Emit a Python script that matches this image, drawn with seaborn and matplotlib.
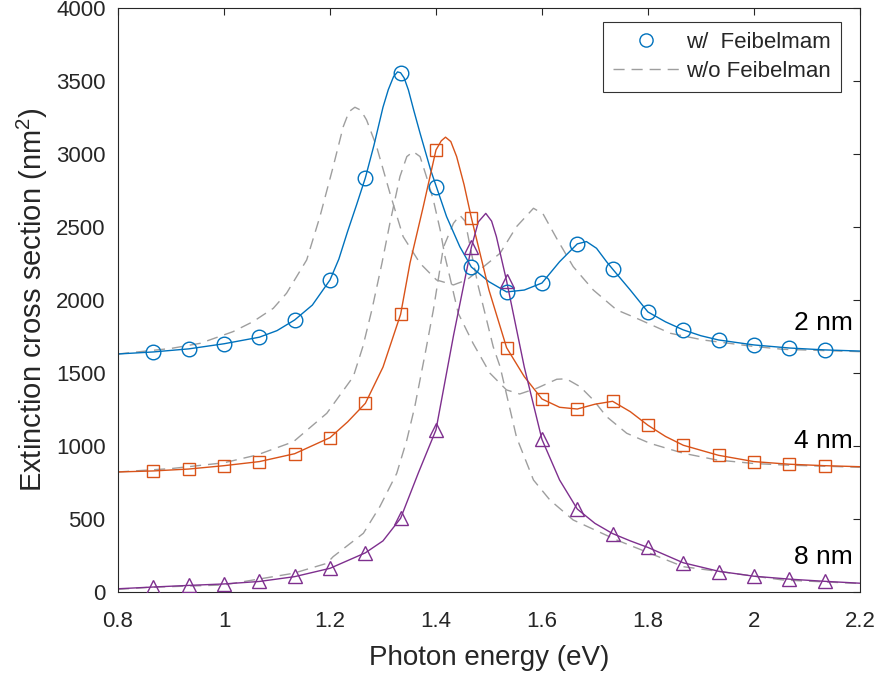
import numpy as np
import pandas as pd
import matplotlib
matplotlib.use('Agg')
import matplotlib.pyplot as plt
import seaborn as sns
from matplotlib.lines import Line2D

# marker positions (photon energy, eV)
x_mk = [0.8667, 0.9333, 1.0, 1.0667, 1.1333, 1.2, 1.2667, 1.3333, 1.4, 1.4667,
        1.5333, 1.6, 1.6667, 1.7333, 1.8, 1.8667, 1.9333, 2.0, 2.0667, 2.1333]
mk_2nm = [1644, 1665, 1700, 1745, 1863, 2137, 2836, 3555, 2774, 2226,
          2055, 2116, 2384, 2212, 1918, 1795, 1726, 1692, 1671, 1658]
mk_4nm = [829, 842, 865, 893, 947, 1057, 1292, 1902, 3027, 2564,
          1673, 1322, 1253, 1308, 1142, 1005, 936, 893, 875, 865]
mk_8nm = [36, 50, 57, 75, 107, 165, 270, 505, 1110, 2360,
          2130, 1045, 565, 400, 305, 200, 140, 108, 88, 72]

# w/ Feibelman, smooth curves
x_w2 = [0.80, 0.8667, 0.9333, 1.0, 1.0667, 1.10, 1.1333, 1.1667, 1.20, 1.2167, 1.2333,
        1.25, 1.2667, 1.283, 1.30, 1.31, 1.32, 1.3275, 1.3333, 1.34, 1.348, 1.358, 1.37,
        1.39, 1.42, 1.445, 1.4667, 1.50, 1.5333, 1.5667, 1.60, 1.6333, 1.6667, 1.684,
        1.703, 1.722, 1.7333, 1.7667, 1.80, 1.8333, 1.8667, 1.90, 1.9333, 2.0, 2.0667,
        2.1333, 2.20]
y_w2 = [1630, 1644, 1665, 1700, 1745, 1790, 1863, 1965, 2137, 2280, 2470,
        2650, 2836, 3060, 3320, 3440, 3530, 3562, 3556, 3520, 3438, 3300, 3142,
        2890, 2571, 2365, 2226, 2125, 2055, 2068, 2116, 2262, 2384, 2400,
        2354, 2262, 2212, 2068, 1918, 1850, 1795, 1755, 1726, 1692, 1671,
        1658, 1650]

x_w4 = [0.80, 0.8667, 0.9333, 1.0, 1.0667, 1.1333, 1.20, 1.2333, 1.2667, 1.30, 1.3333,
        1.351, 1.376, 1.40, 1.41, 1.418, 1.428, 1.439, 1.453, 1.4667, 1.50, 1.5333,
        1.5667, 1.60, 1.6333, 1.6667, 1.70, 1.7333, 1.7667, 1.80, 1.8333, 1.8667,
        1.9333, 2.0, 2.0667, 2.1333, 2.20]
y_w4 = [822, 829, 842, 865, 893, 947, 1057, 1165, 1292, 1540, 1902,
        2253, 2639, 3027, 3090, 3115, 3085, 2982, 2790, 2564, 2068, 1673,
        1475, 1322, 1265, 1253, 1286, 1306, 1235, 1142, 1065, 1005,
        936, 893, 875, 865, 858]

x_w8 = [0.80, 0.8667, 0.9333, 1.0, 1.0667, 1.1333, 1.20, 1.2667, 1.30, 1.3333, 1.3667,
        1.40, 1.4333, 1.4667, 1.48, 1.494, 1.505, 1.514, 1.5333, 1.5667, 1.60, 1.6333,
        1.6667, 1.70, 1.7333, 1.7667, 1.80, 1.8667, 1.9333, 2.0, 2.0667, 2.1333, 2.20]
y_w8 = [22, 34, 45, 55, 72, 105, 162, 268, 350, 505, 815,
        1110, 1760, 2360, 2535, 2593, 2540, 2434, 2130, 1540, 1045, 767,
        568, 470, 400, 350, 305, 200, 142, 108, 88, 73, 60]

# w/o Feibelman (dashed)
x_o2 = [0.80, 0.90, 0.955, 1.017, 1.055, 1.093, 1.118, 1.156, 1.181, 1.206, 1.225, 1.236,
        1.247, 1.258, 1.269, 1.288, 1.313, 1.338, 1.37, 1.401, 1.433, 1.458, 1.49, 1.521,
        1.552, 1.584, 1.602, 1.628, 1.659, 1.697, 1.741, 1.779, 1.842, 1.904, 1.992,
        2.055, 2.20]
y_o2 = [1630, 1668, 1703, 1783, 1852, 1943, 2046, 2274, 2571, 2913, 3187, 3290,
        3320, 3300, 3233, 3050, 2733, 2434, 2251, 2137, 2103, 2137, 2228, 2320,
        2502, 2628, 2590, 2420, 2228, 2068, 1932, 1874, 1772, 1726, 1685,
        1662, 1646]

x_o4 = [0.80, 0.90, 1.0, 1.062, 1.131, 1.194, 1.244, 1.262, 1.279, 1.298, 1.313, 1.332,
        1.345, 1.357, 1.37, 1.382, 1.395, 1.408, 1.417, 1.426, 1.442, 1.47, 1.502, 1.533,
        1.558, 1.59, 1.628, 1.646, 1.672, 1.697, 1.722, 1.76, 1.804, 1.867, 1.93, 2.0,
        2.055, 2.20]
y_o4 = [822, 845, 885, 938, 1029, 1224, 1475, 1680, 1932, 2251, 2525, 2845,
        2982, 3016, 2982, 2845, 2685, 2479, 2297, 2160, 1909, 1703, 1498, 1384,
        1356, 1395, 1457, 1460, 1406, 1315, 1201, 1087, 1018, 950, 904, 880,
        870, 854]

x_o8 = [0.80, 0.86, 0.999, 1.131, 1.194, 1.206, 1.263, 1.294, 1.326, 1.345, 1.36, 1.38,
        1.395, 1.414, 1.433, 1.445, 1.455, 1.467, 1.48, 1.489, 1.508, 1.521, 1.552,
        1.584, 1.615, 1.659, 1.741, 1.867, 2.055, 2.20]
y_o8 = [18, 32, 48, 128, 196, 242, 402, 584, 813, 1041, 1269, 1640,
        1930, 2360, 2525, 2580, 2540, 2320, 2091, 1960, 1680, 1543, 1060,
        767, 630, 493, 356, 173, 82, 58]

size_labels = ['2 nm', '4 nm', '8 nm']
label_y = [1842, 1034, 240]

blue = '#0072BD'
orange = '#D95319'
purple = '#7E2F8E'
gray = '#9E9E9E'
dark = '#262626'

sns.set_theme(style='white')
plt.rcParams['font.family'] = ['Liberation Sans', 'DejaVu Sans']
plt.rcParams['mathtext.fontset'] = 'custom'
plt.rcParams['mathtext.rm'] = 'Liberation Sans'
plt.rcParams['mathtext.default'] = 'regular'

fig = plt.figure(figsize=(8.81, 6.74), dpi=100)
ax = fig.add_axes([0.134, 0.1217, 0.842, 0.8665])

# dashed curves
for xs, ys in [(x_o2, y_o2), (x_o4, y_o4), (x_o8, y_o8)]:
    sns.lineplot(x=xs, y=ys, ax=ax, color=gray, lw=1.0, estimator=None,
                 zorder=1).lines[-1].set_dashes((8, 5))

# smooth curves with Feibelman
for xs, ys, c in [(x_w2, y_w2, blue), (x_w4, y_w4, orange), (x_w8, y_w8, purple)]:
    sns.lineplot(x=xs, y=ys, ax=ax, color=c, lw=1.0, estimator=None, zorder=2)

# markers
for ys, c, m, ms in [(mk_2nm, blue, 'o', 10.5), (mk_4nm, orange, 's', 8.5),
                     (mk_8nm, purple, '^', 10.5)]:
    sns.lineplot(x=x_mk, y=ys, ax=ax, color=c, estimator=None, linestyle='none',
                 marker=m, markersize=ms, markerfacecolor='none', markeredgecolor=c,
                 markeredgewidth=1.0, zorder=3)

for t, yv in zip(size_labels, label_y):
    ax.text(2.187, yv, t, ha='right', va='center', fontsize=19, color='black')

ax.set_xlim(0.8, 2.2)
ax.set_ylim(0, 4000)
ax.set_xticks(np.arange(0.8, 2.21, 0.2))
ax.set_xticklabels(['0.8', '1', '1.2', '1.4', '1.6', '1.8', '2', '2.2'])
ax.set_yticks(np.arange(0, 4001, 500))
ax.tick_params(direction='in', length=5, width=0.8, colors=dark, labelsize=16,
               top=True, right=True)
ax.tick_params(axis='x', pad=14)
ax.tick_params(axis='y', pad=9)
for s in ax.spines.values():
    s.set_color(dark)
    s.set_linewidth(0.8)

ax.set_xlabel('Photon energy (eV)', fontsize=20, color=dark, labelpad=9)
ax.set_ylabel('Extinction cross section (nm$^2$)', fontsize=21, color=dark, labelpad=4)

handles = [Line2D([], [], color=blue, marker='o', linestyle='none', markersize=9.5,
                  markerfacecolor='none', markeredgewidth=1.0),
           Line2D([], [], color=gray, lw=1.0, dashes=(8, 5))]
leg = ax.legend(handles, ['w/  Feibelmam', 'w/o Feibelman'], loc='upper right',
                bbox_to_anchor=(0.9744, 0.976), borderaxespad=0, fontsize=16,
                frameon=True, fancybox=False, handlelength=3.0, handletextpad=0.3,
                borderpad=0.45, labelspacing=0.35)
leg.get_frame().set_edgecolor('black')
leg.get_frame().set_linewidth(0.8)

fig.savefig('out.png', dpi=100)
